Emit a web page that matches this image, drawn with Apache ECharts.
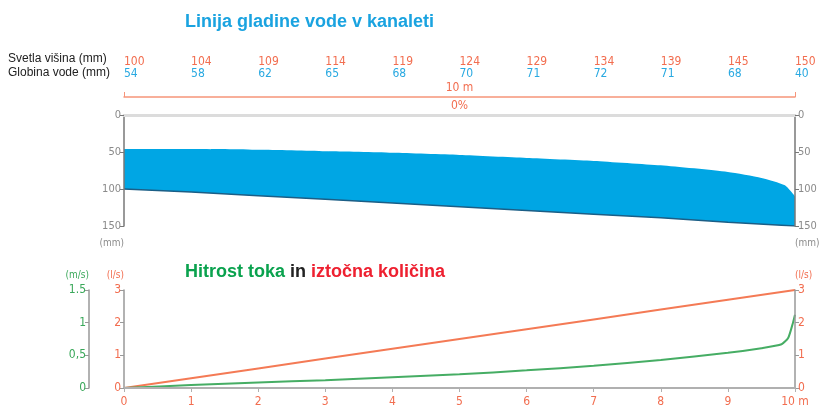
<!DOCTYPE html>
<html>
<head>
<meta charset="utf-8">
<script src="https://cdn.jsdelivr.net/npm/echarts@6/dist/echarts.min.js"></script>
<style>
html, body { margin: 0; padding: 0; background: #fff; }
#main { width: 825px; height: 408px; }
</style>
</head>
<body>
<div id="main"></div>
<script>
// razdalja vzdolz kanalete (m)
var razdalja = [0, 1, 2, 3, 4, 5, 6, 7, 8, 9, 10];
var svetlaVisina = [100, 104, 109, 114, 119, 124, 129, 134, 139, 145, 150];
var globinaVode = [54, 58, 62, 65, 68, 70, 71, 72, 71, 68, 40];
// gladina vode (mm od vrha), odcitano s slike
var gladinaX = [0, 1, 2, 3, 4, 5, 6, 7, 8, 9, 9.5, 9.85, 10];
var gladina = [46, 46, 47, 49, 51, 54, 58, 62, 68, 77, 85, 95, 110];
// iztocna kolicina (l/s)
var kolicina = [0, 0.3, 0.6, 0.9, 1.2, 1.5, 1.8, 2.1, 2.4, 2.7, 3.0];
// hitrost toka (m/s)
var hitrostX = [0, 1, 2, 3, 4, 5, 6, 7, 8, 9, 9.5, 9.8, 9.9, 9.97, 10];
var hitrost = [0, 0.045, 0.085, 0.12, 0.165, 0.21, 0.27, 0.34, 0.43, 0.54, 0.61, 0.67, 0.77, 1.0, 1.12];
var hitrostOznake = { 0: '0', 0.5: '0,5', 1: '1', 1.5: '1.5' };

var RED = '#f26d4f', BLUE = '#29a9e1', GREEN = '#3aa85a', GRAY = '#8a8a8a';
var NUM = "'Liberation Sans Narrow','DejaVu Sans Condensed',sans-serif";
var TIT = "'Liberation Sans',Arial,sans-serif";

function pari(xs, ys) {
    var out = [];
    for (var i = 0; i < xs.length; i++) out.push([xs[i], ys[i]]);
    return out;
}

var chart = echarts.init(document.getElementById('main'));

var option = {
    animation: false,
    title: [
        {
            text: 'Linija gladine vode v kanaleti',
            left: 180, top: 8,
            textStyle: { color: '#1aa3e0', fontSize: 18, fontWeight: 'bold', fontFamily: TIT }
        },
        {
            text: '{g|Hitrost toka} {k|in} {r|iztočna količina}',
            left: 180, top: 258,
            textStyle: {
                fontSize: 18, fontWeight: 'bold', fontFamily: TIT,
                rich: {
                    g: { color: '#0aa24e', fontSize: 18, fontWeight: 'bold', fontFamily: TIT },
                    k: { color: '#222', fontSize: 18, fontWeight: 'bold', fontFamily: TIT },
                    r: { color: '#ee2030', fontSize: 18, fontWeight: 'bold', fontFamily: TIT }
                }
            }
        }
    ],
    graphic: [
        { type: 'text', left: 8, top: 53, style: { text: 'Svetla višina (mm)', fill: '#222', font: '12px Liberation Sans' } },
        { type: 'text', left: 8, top: 67, style: { text: 'Globina vode (mm)', fill: '#222', font: '12px Liberation Sans' } }
    ],
    grid: [
        { left: 124, right: 30, top: 115, height: 111 },
        { left: 124, right: 30, top: 290, height: 98 }
    ],
    xAxis: [
        {   // gornja siva crta
            gridIndex: 0, type: 'value', min: 0, max: 10, position: 'top', z: 5,
            axisLine: { onZero: false, lineStyle: { color: '#dcdcdc', width: 3 } },
            axisTick: { show: false }, axisLabel: { show: false }, splitLine: { show: false }
        },
        {   // rdeca kotna crta 10 m / 0%
            gridIndex: 0, type: 'value', min: 0, max: 10, position: 'top', offset: 18,
            axisLine: { show: true, onZero: false, lineStyle: { color: '#f6957a', width: 1.5 } },
            axisTick: { customValues: [0, 10], length: 5, lineStyle: { color: '#f6957a' } },
            axisLabel: { inside: true, customValues: [5], margin: 3, formatter: function () { return '0%'; },
                color: RED, fontSize: 12, fontFamily: NUM },
            name: '10 m', nameLocation: 'middle', nameGap: 3,
            nameTextStyle: { color: RED, fontSize: 12, fontFamily: NUM, verticalAlign: 'bottom' },
            splitLine: { show: false }
        },
        {   // svetla visina
            gridIndex: 0, type: 'value', min: 0, max: 10, position: 'top', offset: 45,
            axisLine: { show: false, onZero: false }, axisTick: { show: false }, splitLine: { show: false },
            axisLabel: { customValues: razdalja, margin: 2, align: 'left', color: RED, fontSize: 12, fontFamily: NUM,
                formatter: function (v) { return String(svetlaVisina[razdalja.indexOf(v)]); } }
        },
        {   // globina vode
            gridIndex: 0, type: 'value', min: 0, max: 10, position: 'top', offset: 33,
            axisLine: { show: false, onZero: false }, axisTick: { show: false }, splitLine: { show: false },
            axisLabel: { customValues: razdalja, margin: 2, align: 'left', color: BLUE, fontSize: 12, fontFamily: NUM,
                formatter: function (v) { return String(globinaVode[razdalja.indexOf(v)]); } }
        },
        {   // spodnji graf
            gridIndex: 1, type: 'value', min: 0, max: 10, interval: 1, position: 'bottom', z: 5,
            axisLine: { onZero: false, lineStyle: { color: '#b0b0b0', width: 2 } },
            axisTick: { length: 4, lineStyle: { color: '#b0b0b0' } },
            axisLabel: { margin: 8, color: RED, fontSize: 12, fontFamily: NUM,
                formatter: function (v) { return v === 10 ? '10 m' : String(v); } },
            splitLine: { show: false }
        }
    ],
    yAxis: [
        {
            gridIndex: 0, type: 'value', inverse: true, min: 0, max: 150, interval: 50, position: 'left', z: 5,
            axisLine: { show: true, onZero: false, lineStyle: { color: '#777', width: 1.5 } },
            axisTick: { show: true, length: 4, lineStyle: { color: '#777' } },
            axisLabel: { margin: 3, color: GRAY, fontSize: 11, fontFamily: NUM },
            name: '(mm)', nameLocation: 'end', nameGap: 12,
            nameTextStyle: { color: GRAY, fontSize: 10, fontFamily: NUM, align: 'right' },
            splitLine: { show: false }
        },
        {
            gridIndex: 0, type: 'value', inverse: true, min: 0, max: 150, interval: 50, position: 'right', z: 5,
            axisLine: { show: true, onZero: false, lineStyle: { color: '#777', width: 1.5 } },
            axisTick: { show: true, length: 4, lineStyle: { color: '#777' } },
            axisLabel: { margin: 3, color: GRAY, fontSize: 11, fontFamily: NUM },
            name: '(mm)', nameLocation: 'end', nameGap: 12,
            nameTextStyle: { color: GRAY, fontSize: 10, fontFamily: NUM, align: 'left' },
            splitLine: { show: false }
        },
        {   // l/s levo
            gridIndex: 1, type: 'value', min: 0, max: 3, interval: 1, position: 'left', z: 5,
            axisLine: { show: true, onZero: false, lineStyle: { color: '#999', width: 1.5 } },
            axisTick: { show: true, length: 4, lineStyle: { color: '#999' } },
            axisLabel: { margin: 3, color: RED, fontSize: 12, fontFamily: NUM },
            name: '(l/s)', nameLocation: 'end', nameGap: 10,
            nameTextStyle: { color: RED, fontSize: 10, fontFamily: NUM, align: 'right' },
            splitLine: { show: false }
        },
        {   // m/s levo
            gridIndex: 1, type: 'value', min: 0, max: 1.5, interval: 0.5, position: 'left', offset: 35,
            axisLine: { show: true, onZero: false, lineStyle: { color: '#999', width: 1.5 } },
            axisTick: { show: true, length: 4, lineStyle: { color: '#999' } },
            axisLabel: { margin: 3, color: GREEN, fontSize: 12, fontFamily: NUM,
                formatter: function (v) { return hitrostOznake[v] || String(v); } },
            name: '(m/s)', nameLocation: 'end', nameGap: 10,
            nameTextStyle: { color: GREEN, fontSize: 10, fontFamily: NUM, align: 'right' },
            splitLine: { show: false }
        },
        {   // l/s desno
            gridIndex: 1, type: 'value', min: 0, max: 3, interval: 1, position: 'right', z: 5,
            axisLine: { show: true, onZero: false, lineStyle: { color: '#999', width: 1.5 } },
            axisTick: { show: true, length: 4, lineStyle: { color: '#999' } },
            axisLabel: { margin: 3, color: RED, fontSize: 12, fontFamily: NUM },
            name: '(l/s)', nameLocation: 'end', nameGap: 10,
            nameTextStyle: { color: RED, fontSize: 10, fontFamily: NUM, align: 'left' },
            splitLine: { show: false }
        }
    ],
    series: [
        {   // dno kanalete, modra povrsina do vrha
            type: 'line', xAxisIndex: 0, yAxisIndex: 0,
            data: pari(razdalja, svetlaVisina), showSymbol: false,
            lineStyle: { color: '#1b5e86', width: 1.5 },
            areaStyle: { color: '#00a6e4', opacity: 1 }, z: 2
        },
        {   // gladina vode, bela povrsina nad njo
            type: 'line', xAxisIndex: 0, yAxisIndex: 0,
            data: pari(gladinaX, gladina), showSymbol: false, smooth: 0.2,
            lineStyle: { width: 0 },
            areaStyle: { color: '#ffffff', opacity: 1 }, z: 3
        },
        {
            type: 'line', xAxisIndex: 4, yAxisIndex: 2,
            data: pari(razdalja, kolicina), showSymbol: false,
            lineStyle: { color: '#f47a55', width: 2 }
        },
        {
            type: 'line', xAxisIndex: 4, yAxisIndex: 3,
            data: pari(hitrostX, hitrost), showSymbol: false, smooth: 0.2,
            lineStyle: { color: '#46ad64', width: 2 }
        }
    ]
};

chart.setOption(option);
</script>
</body>
</html>
